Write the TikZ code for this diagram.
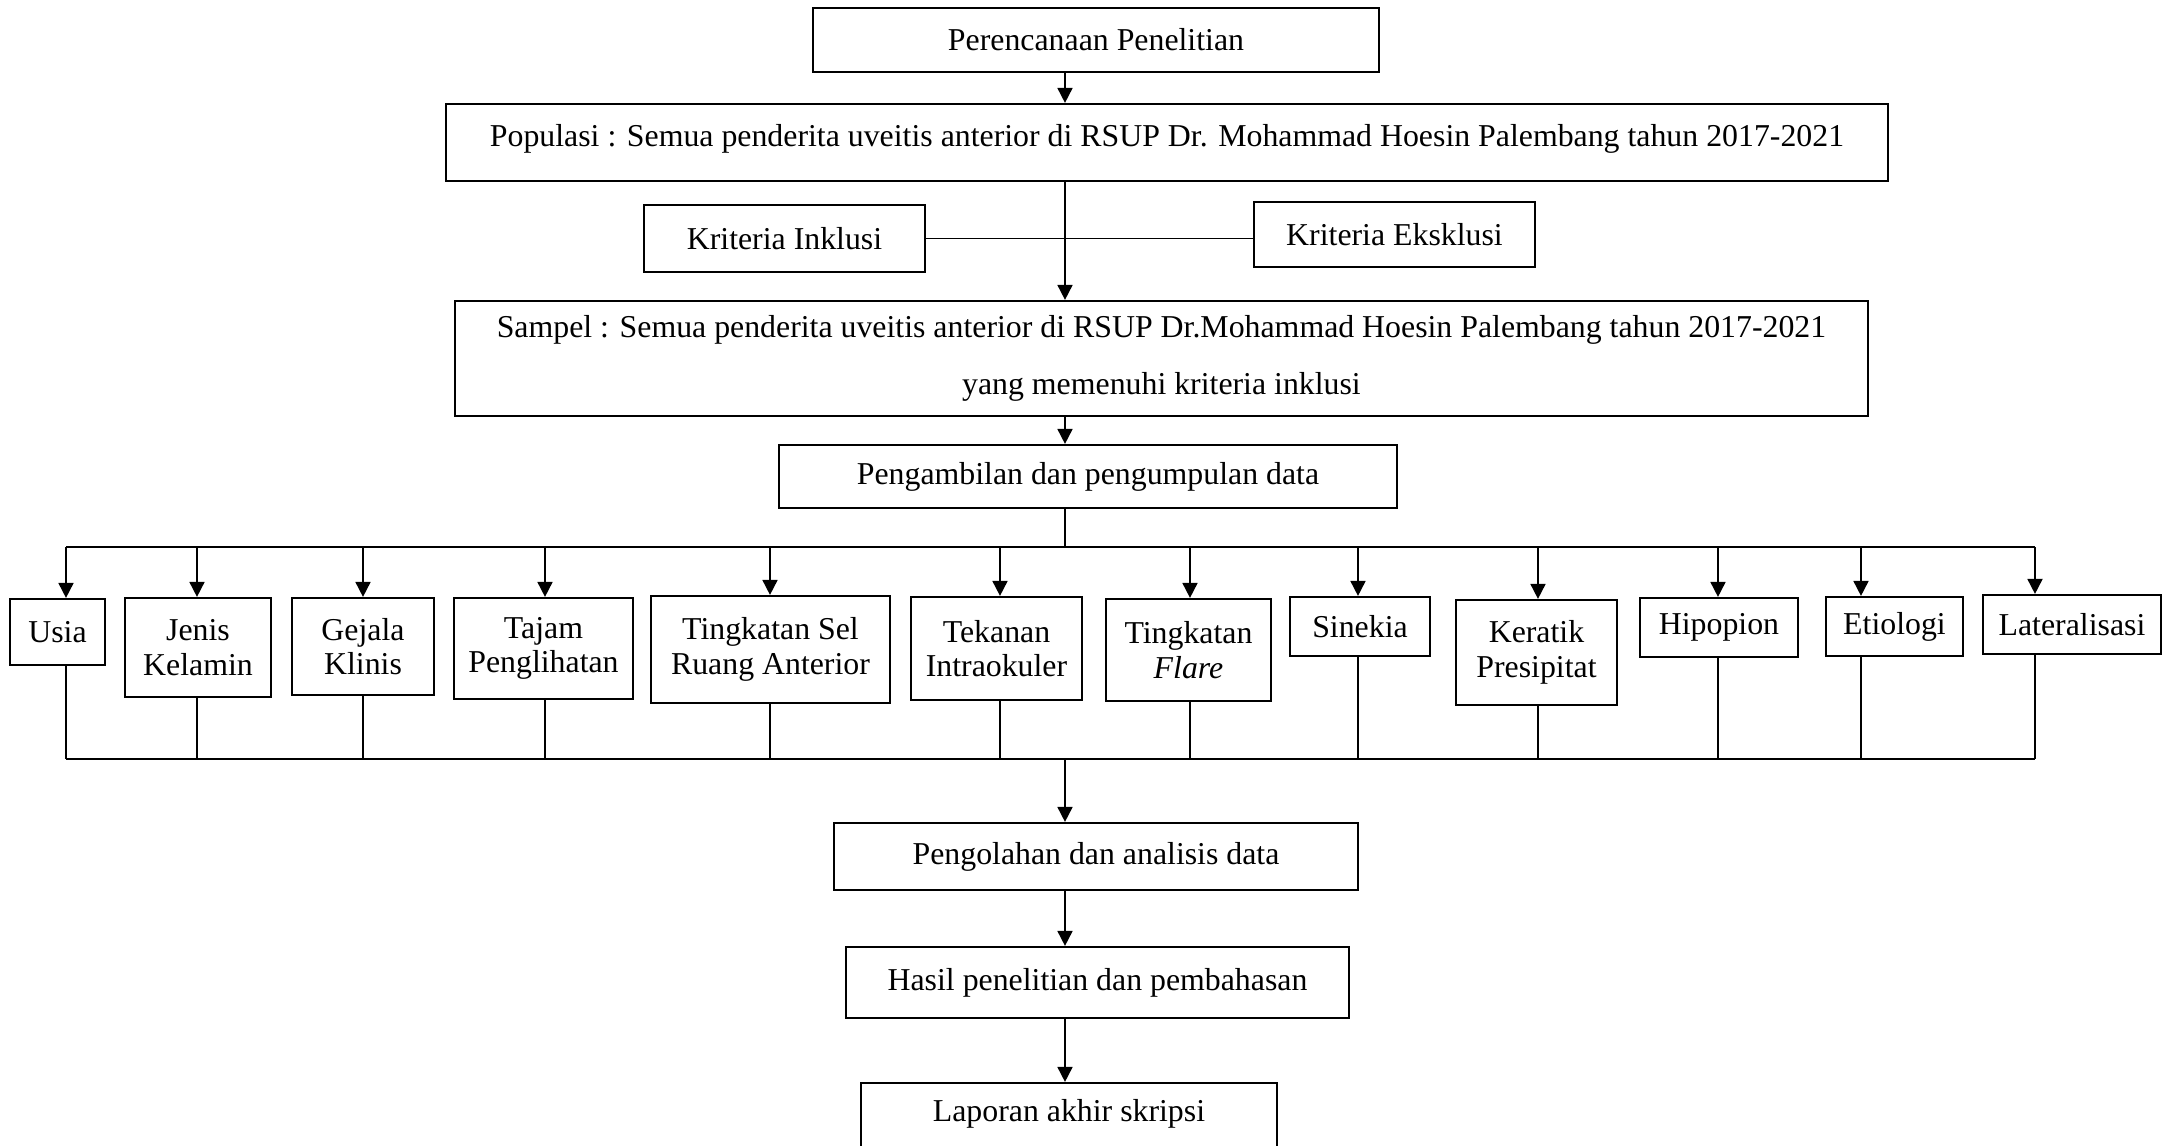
\documentclass[tikz,border=0pt]{standalone}
\usepackage{fontspec}
\setmainfont{Liberation Serif}
\usetikzlibrary{arrows.meta}

\tikzset{
  kotak/.style={draw, line width=0.6pt, inner sep=0pt, align=center},
  garis/.style={line width=0.5pt},
}

\begin{document}
\begin{tikzpicture}[x=0.01cm, y=-0.01cm, >={Triangle[length=0.15cm, width=0.15cm]},
  font=\fontsize{9.05}{9.8}\selectfont]

\useasboundingbox (0,0) rectangle (2162,1146);

% Sumbu alur
\coordinate (spine) at (1065,0);

% Tahap awal
\node[kotak, minimum width=5.66cm, minimum height=0.64cm] (plan) at (1096,40) {Perencanaan Penelitian};
\node[kotak, minimum width=14.42cm, text height=0.43cm, text depth=0.34cm] (pop) at (1167,142.5)
  {Populasi : Semua penderita uveitis anterior di RSUP Dr. Mohammad Hoesin Palembang tahun 2017-2021};
\node[kotak, minimum width=2.81cm, minimum height=0.67cm] (inkl) at (784.5,238.5) {Kriteria Inklusi};
\node[kotak, minimum width=2.81cm, minimum height=0.65cm] (eksk) at (1394.5,234.5) {Kriteria Eksklusi};
\node[kotak, minimum width=14.13cm, minimum height=1.15cm] (sampel) at (1161.5,358.5)
  {Sampel : Semua penderita uveitis anterior di RSUP Dr.Mohammad Hoesin Palembang tahun 2017-2021\\[0.23cm]
   yang memenuhi kriteria inklusi};
\node[kotak, minimum width=6.18cm, minimum height=0.63cm] (ambil) at (1088,476.5) {Pengambilan dan pengumpulan data};

% Variabel
\node[kotak, minimum width=0.95cm, minimum height=0.66cm] (usia) at (57.5,632) {Usia};
\node[kotak, minimum width=1.46cm, minimum height=0.99cm] (jenis) at (198,647.5) {Jenis\\Kelamin};
\node[kotak, minimum width=1.42cm, minimum height=0.97cm] (gejala) at (363,646.5) {Gejala\\Klinis};
\node[kotak, minimum width=1.79cm, minimum height=1.01cm] (tajam) at (543.5,648.5) {Tajam\\Penglihatan};
\node[kotak, minimum width=2.39cm, minimum height=1.07cm] (sel) at (770.5,649.5) {Tingkatan Sel\\Ruang Anterior};
\node[kotak, minimum width=1.71cm, minimum height=1.03cm] (tekanan) at (996.5,648.5) {Tekanan\\Intraokuler};
\node[kotak, minimum width=1.65cm, minimum height=1.02cm] (flare) at (1188.5,650) {Tingkatan\\\textit{Flare}};
\node[kotak, minimum width=1.40cm, minimum height=0.59cm] (sinekia) at (1360,626.5) {Sinekia};
\node[kotak, minimum width=1.61cm, minimum height=1.05cm] (keratik) at (1536.5,652.5) {Keratik\\Presipitat};
\node[kotak, minimum width=1.58cm, minimum height=0.59cm] (hipopion) at (1719,627.5) {Hipopion};
\node[kotak, minimum width=1.37cm, minimum height=0.59cm] (etiologi) at (1894.5,626.5) {Etiologi};
\node[kotak, minimum width=1.78cm, minimum height=0.59cm] (lateral) at (2072,624.5) {Lateralisasi};

% Tahap akhir
\node[kotak, minimum width=5.24cm, minimum height=0.67cm] (olah) at (1096,856.5) {Pengolahan dan analisis data};
\node[kotak, minimum width=5.03cm, minimum height=0.71cm] (hasil) at (1097.5,982.5) {Hasil penelitian dan pembahasan};
\node[kotak, minimum width=4.16cm, text height=0.38cm, text depth=0.30cm] (lapor) at (1069,1117) {Laporan akhir skripsi};

% Panah utama
\draw[garis, ->] (plan.south -| spine) -- (pop.north -| spine);
\draw[garis, ->] (pop.south -| spine) -- (sampel.north -| spine);
\draw[garis] (inkl.east) -- (inkl.east -| eksk.west);
\draw[garis, ->] (sampel.south -| spine) -- (ambil.north -| spine);

% Percabangan ke variabel
\foreach \n/\x in {usia/66, jenis/197, gejala/363, tajam/545, sel/770, tekanan/1000,
                   flare/1190, sinekia/1358, keratik/1538, hipopion/1718, etiologi/1861, lateral/2035}{
  \coordinate (top-\n) at (\x,547);
  \coordinate (bot-\n) at (\x,759);
  \draw[garis, ->] (top-\n) -- (top-\n |- \n.north);
  \draw[garis] (bot-\n |- \n.south) -- (bot-\n);
}
\draw[garis] (ambil.south -| spine) -- (top-usia -| spine);
\draw[garis] (top-usia) -- (top-lateral);
\draw[garis] (bot-usia) -- (bot-lateral);

% Menuju hasil
\draw[garis, ->] (bot-usia -| spine) -- (olah.north -| spine);
\draw[garis, ->] (olah.south -| spine) -- (hasil.north -| spine);
\draw[garis, ->] (hasil.south -| spine) -- (lapor.north -| spine);

\end{tikzpicture}
\end{document}
